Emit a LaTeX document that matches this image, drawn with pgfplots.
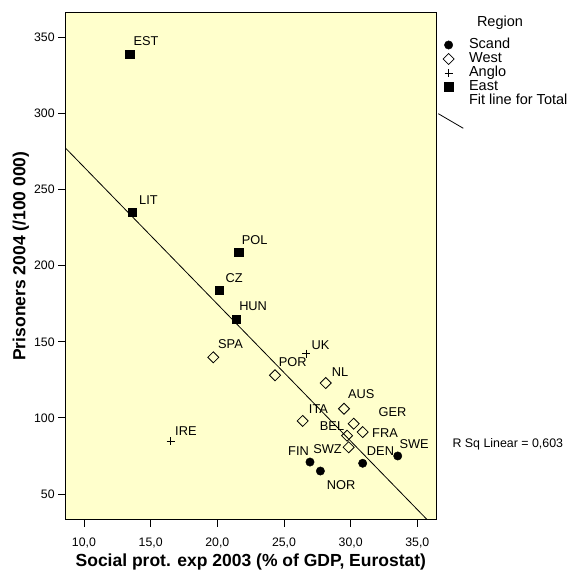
\documentclass[border=0pt]{standalone}
\usepackage{fontspec}
\setmainfont{Liberation Sans}
\usepackage{pgfplots}
\pgfplotsset{compat=1.18}
\definecolor{bgyellow}{RGB}{255,255,204}
\pgfplotsset{fitlegend/.style={legend image code/.code={%
    \path (0cm,0cm) (0.6cm,0cm);
    \draw[##1, overlay] (-1.8pt,-12.7pt) -- (23.2pt,-27.3pt);}}}

\begin{document}
\begin{tikzpicture}
\path[use as bounding box] (0pt,0pt) rectangle (576pt,571pt);
\begin{axis}[
  at={(65.7pt,51.7pt)}, anchor=south west,
  scale only axis, width=370.3pt, height=507pt,
  xmin=8.63, xmax=36.40, ymin=33.4, ymax=366.4,
  axis background/.style={fill=bgyellow},
  axis line style={line width=1pt, black},
  xtick={10,15,...,35}, ytick={50,100,...,350},
  tick align=outside, xtick pos=bottom, ytick pos=left,
  major tick length=7.5pt, tick style={line width=0.9pt, black},
  /pgf/number format/assume math mode=true,
  ticklabel style={font=\fontsize{12.3}{14}\selectfont},
  xticklabel style={yshift=-8pt, /pgf/number format/.cd, fixed, fixed zerofill, precision=1, use comma},
  yticklabel style={/pgf/number format/.cd, fixed, precision=0},
  xlabel={Social prot. exp 2003 (\% of GDP, Eurostat)},
  ylabel={Prisoners 2004 (/100 000)},
  xlabel style={at={(axis description cs:0.5,-0.0836)}, anchor=center, font=\fontsize{17.5}{20}\selectfont\bfseries},
  ylabel style={at={(axis description cs:-0.121,0.519)}, anchor=center, font=\fontsize{17.5}{20}\selectfont\bfseries},
  legend cell align=left,
  legend style={draw=none, fill=none, at={(axis description cs:1,1)}, anchor=north west,
    xshift=3.5pt, yshift=-26.5pt, font=\fontsize{14.5}{16}\selectfont,
    row sep=2.0pt, column sep=11.5pt, inner sep=0pt,
    nodes={inner sep=0pt, text height=9.5pt, text depth=2.5pt}},
]
% Scand
\addplot[only marks, mark=*, mark size=4.2pt, black] coordinates {
  (26.95,71.0) (27.73,65.1) (30.90,70.2) (33.53,75.0)};
\addlegendentry{Scand}
% West
\addplot[only marks, mark=square, mark size=3.9pt, mark options={rotate=45, fill=none, line width=0.8pt}, black] coordinates {
  (19.70,139.8) (24.33,128.0) (28.13,122.9) (29.50,106.0) (26.40,98.0)
  (30.23,96.2) (30.90,90.7) (29.73,88.3) (29.85,80.7)};
\addlegendentry{West}
% Anglo
\addplot[only marks, mark=+, mark size=4pt, mark options={line width=0.6pt}, black] coordinates {
  (26.68,142.2) (16.50,84.8)};
\addlegendentry{Anglo}
% East
\addplot[only marks, mark=square*, mark size=4.3pt, black] coordinates {
  (13.43,339.0) (13.63,235.0) (21.60,208.8) (20.13,183.8) (21.43,164.8)};
\addlegendentry{East}
% Fit line
\addplot[black, line width=0.8pt, fitlegend]
  coordinates {(8.63,277.1) (35.71,33.4)};
\addlegendentry{Fit line for Total}

\begin{scope}[every node/.style={anchor=west, inner sep=0pt, font=\fontsize{12.8}{14}\selectfont}]
\node at (axis cs:13.70,347.2) {EST};
\node at (axis cs:14.13,243.2) {LIT};
\node at (axis cs:21.83,216.9) {POL};
\node at (axis cs:20.60,192.1) {CZ};
\node at (axis cs:21.63,173.1) {HUN};
\node at (axis cs:20.05,148.6) {SPA};
\node at (axis cs:27.05,147.9) {UK};
\node at (axis cs:24.60,136.9) {POR};
\node at (axis cs:28.58,130.2) {NL};
\node at (axis cs:29.80,115.5) {AUS};
\node at (axis cs:32.08,104.1) {GER};
\node at (axis cs:26.86,106.0) {ITA};
\node at (axis cs:27.68,94.5) {BEL};
\node at (axis cs:31.60,89.9) {FRA};
\node at (axis cs:33.65,83.0) {SWE};
\node at (axis cs:31.21,78.1) {DEN};
\node at (axis cs:27.18,79.8) {SWZ};
\node at (axis cs:25.30,78.1) {FIN};
\node at (axis cs:28.20,55.7) {NOR};
\node at (axis cs:16.83,91.6) {IRE};
\end{scope}
\end{axis}
\node[font=\fontsize{14.5}{16}\selectfont] at (500pt,548.3pt) {Region};
\node[anchor=west, inner sep=0pt, font=\fontsize{12.4}{14}\selectfont] at (452.3pt,126.7pt) {R Sq Linear = 0,603};
\end{tikzpicture}
\end{document}
